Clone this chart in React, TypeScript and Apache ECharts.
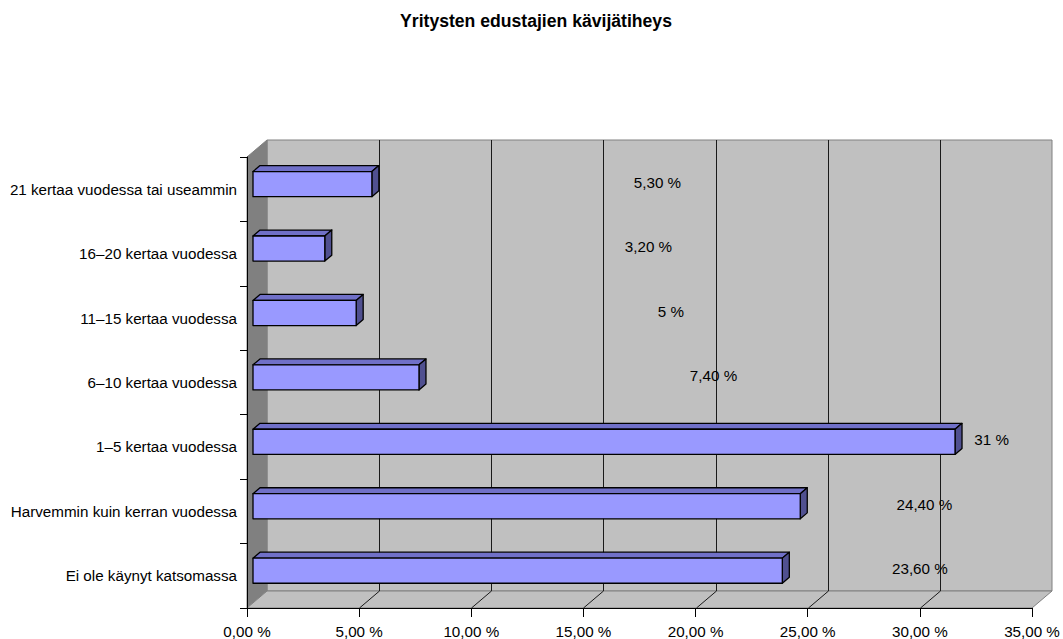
import React, { useEffect, useRef } from "react";
import * as echarts from "echarts";

// ---- data ----
const categories = [
  "Ei ole käynyt katsomassa",
  "Harvemmin kuin kerran vuodessa",
  "1–5 kertaa vuodessa",
  "6–10 kertaa vuodessa",
  "11–15 kertaa vuodessa",
  "16–20 kertaa vuodessa",
  "21 kertaa vuodessa tai useammin",
];
const values = [23.6, 24.4, 31.3, 7.4, 4.6, 3.2, 5.3];
const valueLabels = ["23,60 %", "24,40 %", "31 %", "7,40 %", "5 %", "3,20 %", "5,30 %"];
const xTicks = [0, 5, 10, 15, 20, 25, 30, 35];

// ---- layout (label anchor positions in axis units, as placed in the original) ----
const labelAnchorX = [30.0, 30.2, 33.2, 20.8, 18.9, 17.9, 18.3];
const LABEL_DY = -7;
const DEPTH: [number, number] = [20, -17];
const BAR_FRONT = 0.3;
const BAR_BACK = 0.65;
const BAR_THICK = 0.39;
const FONT = "'Liberation Sans', Arial, sans-serif";

const fmt = (v: number) => v.toFixed(2).replace(".", ",") + " %";

export default function App() {
  const ref = useRef<HTMLDivElement>(null);
  useEffect(() => {
    if (!ref.current) return;
    const chart = echarts.init(ref.current, null, { renderer: "svg" });
    const [dx, dy] = DEPTH;

    const wallsRender = (params: any, api: any) => {
      const cs = params.coordSys;
      const x0 = cs.x, y0 = cs.y, x1 = cs.x + cs.width, y1 = cs.y + cs.height;
      const children: any[] = [];
      children.push({
        type: "polygon",
        shape: { points: [[x0 + dx, y0 + dy], [x1 + dx, y0 + dy], [x1 + dx, y1 + dy], [x0 + dx, y1 + dy]] },
        style: { fill: "#c0c0c0", stroke: "#808080", lineWidth: 1 },
      });
      children.push({
        type: "polygon",
        shape: { points: [[x0, y0], [x0 + dx, y0 + dy], [x0 + dx, y1 + dy], [x0, y1]] },
        style: { fill: "#808080", stroke: "#808080", lineWidth: 1 },
      });
      children.push({
        type: "polygon",
        shape: { points: [[x0, y1], [x0 + dx, y1 + dy], [x1 + dx, y1 + dy], [x1, y1]] },
        style: { fill: "#c0c0c0", stroke: "#808080", lineWidth: 1 },
      });
      xTicks.slice(1, -1).forEach((t) => {
        const px = Math.round(api.coord([t, 0])[0]) + 0.5;
        children.push({
          type: "line",
          shape: { x1: px + dx, y1: y0 + dy, x2: px + dx, y2: y1 + dy },
          style: { stroke: "#1a1a1a", lineWidth: 1 },
        });
        children.push({
          type: "line",
          shape: { x1: px, y1: y1, x2: px + dx, y2: y1 + dy },
          style: { stroke: "#1a1a1a", lineWidth: 1 },
        });
      });
      return { type: "group", children };
    };

    const barRender = (params: any, api: any) => {
      const i = api.value(0);
      const v = api.value(1);
      const base = api.coord([0, i]);
      const end = api.coord([v, i]);
      const band = api.size([0, 1])[1];
      const h = band * BAR_THICK;
      const fx = dx * BAR_FRONT, fy = dy * BAR_FRONT;
      const bx = dx * (BAR_BACK - BAR_FRONT), by = dy * (BAR_BACK - BAR_FRONT);
      const L = base[0] + fx, R = end[0] + fx;
      const T = base[1] + fy - h / 2, B = base[1] + fy + h / 2;
      const stroke = { stroke: "#000", lineWidth: 1.3, lineJoin: "round" };
      const lp = api.coord([labelAnchorX[i], i]);
      return {
        type: "group",
        children: [
          { type: "polygon", shape: { points: [[L, T], [R, T], [R + bx, T + by], [L + bx, T + by]] }, style: { fill: "#7070c8", ...stroke } },
          { type: "polygon", shape: { points: [[R, T], [R + bx, T + by], [R + bx, B + by], [R, B]] }, style: { fill: "#505090", ...stroke } },
          { type: "rect", shape: { x: L, y: T, width: R - L, height: B - T }, style: { fill: "#9999ff", ...stroke } },
          {
            type: "text",
            x: lp[0],
            y: lp[1] + LABEL_DY,
            style: { text: valueLabels[i], fill: "#000", fontSize: 15.2, fontFamily: FONT, align: "center", verticalAlign: "middle" },
          },
        ],
      };
    };

    chart.setOption({
      animation: false,
      backgroundColor: "#fff",
      title: {
        text: "Yritysten edustajien kävijätiheys",
        left: 531,
        textAlign: "center",
        top: 7,
        textStyle: { fontSize: 17.6, fontWeight: "bold", fontFamily: FONT, color: "#000" },
      },
      grid: { left: 247, top: 157, width: 785, height: 451, containLabel: false },
      xAxis: {
        type: "value",
        min: 0,
        max: 35,
        interval: 5,
        z: 10,
        axisLine: { show: true, lineStyle: { color: "#000", width: 1 } },
        axisTick: { show: true, length: 9, lineStyle: { color: "#000" } },
        splitLine: { show: false },
        axisLabel: { formatter: fmt, fontSize: 15.2, fontFamily: FONT, color: "#000", margin: 16 },
      },
      yAxis: {
        type: "category",
        data: categories,
        z: 10,
        axisLine: { show: true, lineStyle: { color: "#000", width: 1 } },
        axisTick: { show: true, length: 7, lineStyle: { color: "#000" } },
        splitLine: { show: false },
        axisLabel: { interval: 0, fontSize: 15.2, fontFamily: FONT, color: "#000", margin: 10 },
      },
      series: [
        {
          type: "custom",
          name: "walls",
          z: 1,
          clip: false,
          silent: true,
          encode: { x: 1, y: 0 },
          data: [[0, 0]],
          renderItem: wallsRender,
        },
        {
          type: "custom",
          name: "bars",
          z: 3,
          clip: false,
          encode: { x: 1, y: 0 },
          data: values.map((v, i) => [i, v]),
          renderItem: barRender,
        },
      ],
    });
    return () => chart.dispose();
  }, []);
  return <div ref={ref} style={{ position: "absolute", left: 0, top: 0, width: 1063, height: 639 }} />;
}
